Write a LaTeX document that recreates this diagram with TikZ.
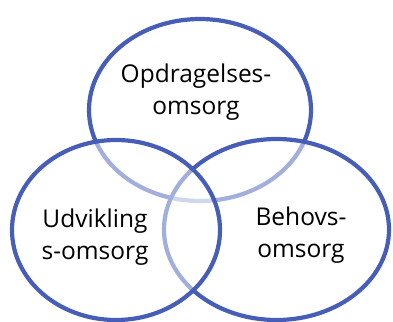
\documentclass[tikz,border=0pt]{standalone}
\usepackage{fontspec}
\setmainfont{Open Sans}
\usetikzlibrary{shapes.geometric}
\definecolor{ringblue}{RGB}{70,94,184}
\tikzset{
  ring/.style={ellipse, draw=ringblue, line width=4.2pt, fill=white, fill opacity=0.5, inner sep=0pt},
  label/.style={text centered, align=center, font=\fontsize{24.5}{32}\selectfont, text=black}
}

\begin{document}
\begin{tikzpicture}[x=1pt, y=-1pt]
        		\useasboundingbox (0,0) rectangle (393,321);

        		\node (OpdragelsesRing) at (200,110) [ring, minimum width=222pt, minimum height=182pt]{};
        		\node (BehovsRing) at (276.5,229.5) [ring, minimum width=225pt, minimum height=181pt]{};
        		\node (UdviklingRing) at (116,230) [ring, minimum width=208pt, minimum height=180pt]{};

        		\node (Opdragelses) at (196,92) [label]{Opdragelses-\\omsorg};
        		\node (Udvikling) at (95,237) [label]{Udvikling\\s-omsorg};
        		\node (Behovs) at (301,235) [label]{Behovs-\\omsorg};
		    \end{tikzpicture}
\end{document}
